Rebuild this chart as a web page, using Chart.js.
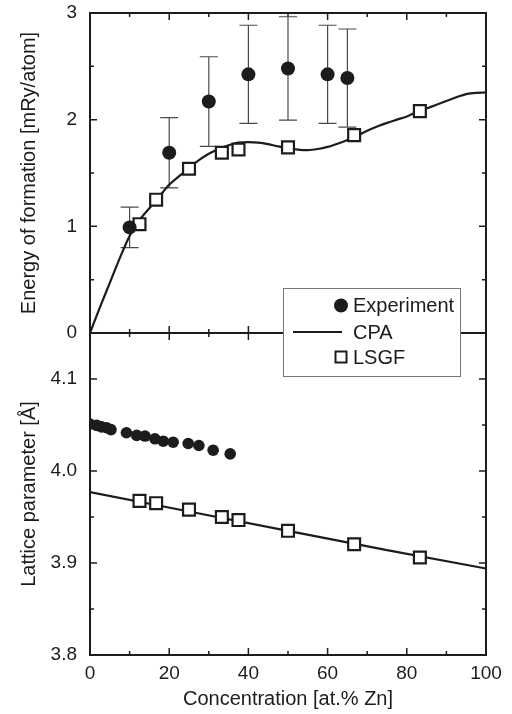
<!DOCTYPE html>
<html>
<head>
<meta charset="utf-8">
<title>Energy of formation and lattice parameter</title>
<style>
html, body { margin: 0; padding: 0; background: #fff; }
#wrap { position: relative; width: 512px; height: 714px; }
</style>
</head>
<body>
<div id="wrap"><canvas id="chart" width="512" height="714"></canvas></div>
<script src="https://cdn.jsdelivr.net/npm/chart.js"></script>
<script>
// axis tick labels
const xTicks = [0, 20, 40, 60, 80, 100];
const energyTicks = [0, 1, 2, 3];
const latticeTicks = [3.8, 3.9, 4.0, 4.1];

// energy of formation: experiment (with error bars)
const expEnergyX = [10, 20, 30, 40, 50, 60, 65];
const expEnergyY = [0.99, 1.69, 2.17, 2.425, 2.48, 2.425, 2.39];
const expEnergyErr = [0.19, 0.33, 0.42, 0.46, 0.485, 0.46, 0.46];

// energy of formation: CPA
const cpaEnergyX = [0, 2.5, 5, 7.5, 10, 12.5, 15, 17.5, 20, 22.5, 25, 27.5, 30, 32.5, 35, 37.5, 40, 42.5, 45, 47.5, 50,
  52.5, 55, 57.5, 60, 62.5, 65, 67.5, 70, 72.5, 75, 77.5, 80, 82.5, 85, 87.5, 90, 92.5, 95, 97.5, 100];
const cpaEnergyY = [0, 0.24, 0.47, 0.70, 0.91, 1.06, 1.17, 1.28, 1.39, 1.47, 1.545, 1.62, 1.68, 1.725, 1.76, 1.785, 1.79,
  1.785, 1.77, 1.75, 1.735, 1.72, 1.715, 1.725, 1.745, 1.775, 1.81, 1.85, 1.895, 1.935, 1.97, 2.0, 2.03, 2.07, 2.105,
  2.14, 2.175, 2.21, 2.24, 2.252, 2.255];

// LSGF supercell results
const lsgfX = [12.5, 16.7, 25, 33.3, 37.5, 50, 66.7, 83.3];
const lsgfEnergy = [1.02, 1.25, 1.54, 1.69, 1.72, 1.74, 1.855, 2.08];
const lsgfLattice = [3.9675, 3.965, 3.958, 3.950, 3.9467, 3.935, 3.9204, 3.906];

// lattice parameter: experiment
const expLatticeX = [0, 1.7, 2.9, 4.2, 5.3, 9.2, 11.8, 13.9, 16.4, 18.5, 21.0, 24.8, 27.5, 31.1, 35.4];
const expLatticeY = [4.051, 4.0496, 4.048, 4.047, 4.045, 4.0416, 4.0387, 4.038, 4.035, 4.0324, 4.0313, 4.0299,
  4.0277, 4.0226, 4.0186];

// lattice parameter: CPA
const cpaLatticeX = [0, 25, 50, 75, 100];
const cpaLatticeY = [3.977, 3.956, 3.935, 3.914, 3.894];

const ink = '#1c1c1c';
const font = 'Liberation Sans, Arial, Helvetica, sans-serif';

const pts = (xs, ys) => xs.map((x, i) => ({x: x, y: ys[i]}));

// frame + inward ticks for both panels
const panelFrame = {
  id: 'panelFrame',
  beforeDatasetsDraw(chart) {
    const {ctx, chartArea: a, scales} = chart;
    const x = scales.x;
    ctx.save();
    ctx.strokeStyle = ink;
    [[scales.yE, energyTicks], [scales.yL, latticeTicks]].forEach(([ys, ticks]) => {
      ctx.lineWidth = 1.5;
      const tick = (x1, y1, x2, y2) => { ctx.moveTo(x1, y1); ctx.lineTo(x2, y2); };
      ctx.beginPath();
      for (let v = 0; v <= 100; v += 10) {
        const px = x.getPixelForValue(v);
        const len = v % 20 === 0 ? 7 : 4;
        tick(px, ys.top, px, ys.top + len);
        tick(px, ys.bottom, px, ys.bottom - len);
      }
      const step = ticks[1] - ticks[0];
      ticks.forEach(v => {
        [v, v + step / 2].forEach((t, k) => {
          if (t > ys.max + 1e-9) return;
          const py = ys.getPixelForValue(t);
          const len = k === 0 ? 7 : 4;
          tick(a.left, py, a.left + len, py);
          tick(a.right, py, a.right - len, py);
        });
      });
      ctx.stroke();
      ctx.lineWidth = 2;
      ctx.strokeRect(a.left, ys.top, a.right - a.left, ys.bottom - ys.top);
    });
    ctx.restore();
  }
};

// error bars on the measured formation energies
const errorBars = {
  id: 'errorBars',
  beforeDatasetsDraw(chart) {
    const {ctx, scales: {x, yE}} = chart;
    ctx.save();
    ctx.strokeStyle = '#4a4a4a';
    ctx.lineWidth = 1.2;
    ctx.beginPath();
    expEnergyX.forEach((c, i) => {
      const px = x.getPixelForValue(c);
      const lo = yE.getPixelForValue(expEnergyY[i] - expEnergyErr[i]);
      const hi = yE.getPixelForValue(expEnergyY[i] + expEnergyErr[i]);
      ctx.moveTo(px, lo); ctx.lineTo(px, hi);
      ctx.moveTo(px - 9, lo); ctx.lineTo(px + 9, lo);
      ctx.moveTo(px - 9, hi); ctx.lineTo(px + 9, hi);
    });
    ctx.stroke();
    ctx.restore();
  }
};

// boxed legend sitting across the two panels
const legendBox = {
  id: 'legendBox',
  afterDraw(chart) {
    const {ctx, chartArea: a, scales} = chart;
    const x0 = a.left + 193, y0 = scales.yL.top - 45, w = 177, h = 88;
    ctx.save();
    ctx.fillStyle = '#fff';
    ctx.fillRect(x0, y0, w, h);
    ctx.strokeStyle = '#777';
    ctx.lineWidth = 1;
    ctx.strokeRect(x0 + 0.5, y0 + 0.5, w, h);
    const rows = [0, 2, 1]; // Experiment, CPA, LSGF
    const rowY = [17.5, 44, 69];
    ctx.font = '20px ' + font;
    ctx.textBaseline = 'middle';
    rows.forEach((di, r) => {
      const ds = chart.data.datasets[di];
      const cy = y0 + rowY[r];
      const mx = x0 + 58;
      ctx.fillStyle = ink;
      ctx.strokeStyle = ink;
      if (ds.showLine) {
        ctx.lineWidth = 2.2;
        ctx.beginPath(); ctx.moveTo(x0 + 10, cy); ctx.lineTo(x0 + 59, cy); ctx.stroke();
      } else if (ds.pointStyle === 'rect') {
        ctx.lineWidth = 2;
        ctx.fillStyle = '#fff';
        ctx.fillRect(mx - 5.5, cy - 5.5, 11, 11);
        ctx.strokeRect(mx - 5.5, cy - 5.5, 11, 11);
      } else {
        ctx.beginPath(); ctx.arc(mx, cy, 7, 0, Math.PI * 2); ctx.fill();
      }
      ctx.fillStyle = ink;
      ctx.fillText(ds.label, x0 + 70, cy + 1);
    });
    ctx.restore();
  }
};

const tickFont = {family: font, size: 19};
const titleFont = {family: font, size: 20};

// y axes: fixed width, no extra room reserved for end labels
const fitY = s => { s.width = 90; s.paddingTop = 0; s.paddingBottom = 0; };

new Chart(document.getElementById('chart'), {
  type: 'scatter',
  data: {
    datasets: [
      {label: 'Experiment', data: pts(expEnergyX, expEnergyY), yAxisID: 'yE', order: 0,
        pointStyle: 'circle', pointRadius: 7, backgroundColor: ink, borderColor: ink, borderWidth: 0},
      {label: 'LSGF', data: pts(lsgfX, lsgfEnergy), yAxisID: 'yE', order: 1,
        pointStyle: 'rect', pointRadius: 8.4, backgroundColor: '#fff', borderColor: ink, borderWidth: 2.2},
      {label: 'CPA', data: pts(cpaEnergyX, cpaEnergyY), yAxisID: 'yE', order: 2, showLine: true,
        pointRadius: 0, borderColor: ink, borderWidth: 2.2, cubicInterpolationMode: 'monotone'},
      {label: 'Experiment', data: pts(expLatticeX, expLatticeY), yAxisID: 'yL', order: 0,
        pointStyle: 'circle', pointRadius: 5.8, backgroundColor: ink, borderColor: ink, borderWidth: 0},
      {label: 'LSGF', data: pts(lsgfX, lsgfLattice), yAxisID: 'yL', order: 1,
        pointStyle: 'rect', pointRadius: 8.4, backgroundColor: '#fff', borderColor: ink, borderWidth: 2.2},
      {label: 'CPA', data: pts(cpaLatticeX, cpaLatticeY), yAxisID: 'yL', order: 2, showLine: true,
        pointRadius: 0, borderColor: ink, borderWidth: 2.2}
    ]
  },
  options: {
    responsive: false,
    animation: false,
    devicePixelRatio: 1,
    layout: {padding: {top: 13, right: 26, bottom: 0, left: 0}},
    plugins: {legend: {display: false}, tooltip: {enabled: false}},
    scales: {
      x: {
        type: 'linear', min: 0, max: 100,
        afterBuildTicks: s => { s.ticks = xTicks.map(v => ({value: v})); },
        afterFit: s => { s.height = 59; s.paddingLeft = 0; s.paddingRight = 0; },
        grid: {display: false, drawTicks: false}, border: {display: false},
        ticks: {font: tickFont, color: ink, padding: 7, maxRotation: 0},
        title: {display: true, text: 'Concentration [at.% Zn]', font: titleFont, color: ink, padding: {top: 0, bottom: 3}}
      },
      yE: {
        type: 'linear', position: 'left', stack: 'panels', stackWeight: 320, weight: 2,
        min: 0, max: 3,
        afterBuildTicks: s => { s.ticks = energyTicks.map(v => ({value: v})); },
        afterFit: fitY,
        grid: {display: false, drawTicks: false}, border: {display: false},
        ticks: {font: tickFont, color: ink, padding: 13, callback: v => String(v)},
        title: {display: true, text: 'Energy of formation [mRy/atom]', font: titleFont, color: ink, padding: {top: 17, bottom: 0}}
      },
      yL: {
        type: 'linear', position: 'left', stack: 'panels', stackWeight: 322, weight: 1,
        min: 3.8, max: 4.15,
        afterBuildTicks: s => { s.ticks = latticeTicks.map(v => ({value: v})); },
        afterFit: fitY,
        grid: {display: false, drawTicks: false}, border: {display: false},
        ticks: {font: tickFont, color: ink, padding: 13, callback: v => v.toFixed(1)},
        title: {display: true, text: 'Lattice parameter [Å]', font: titleFont, color: ink, padding: {top: 17, bottom: 0}}
      }
    }
  },
  plugins: [panelFrame, errorBars, legendBox]
});
</script>
</body>
</html>
